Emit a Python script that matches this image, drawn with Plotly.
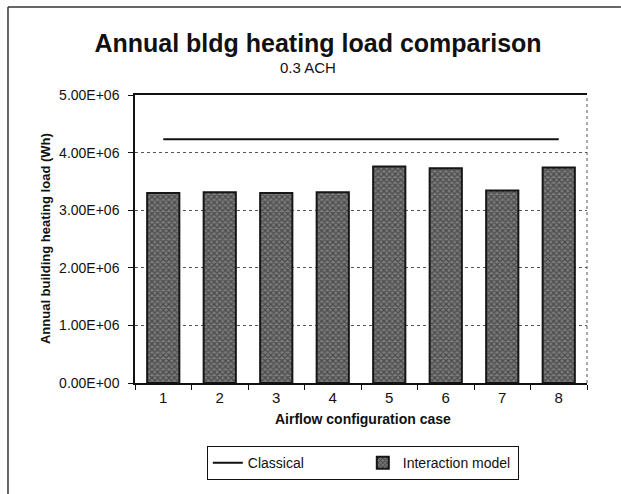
import plotly.graph_objects as go

cases = ["1", "2", "3", "4", "5", "6", "7", "8"]
interaction_model = [3.30e6, 3.31e6, 3.30e6, 3.31e6, 3.76e6, 3.73e6, 3.34e6, 3.74e6]
classical = [4.23e6, 4.23e6, 4.23e6, 4.23e6, 4.23e6, 4.23e6, 4.23e6, 4.23e6]
y_tick_values = [0, 1e6, 2e6, 3e6, 4e6, 5e6]
y_tick_labels = ["0.00E+00", "1.00E+06", "2.00E+06", "3.00E+06", "4.00E+06", "5.00E+06"]

FONT = "Liberation Sans, Arial, sans-serif"

fig = go.Figure()
fig.add_trace(go.Scatter(
    x=cases, y=classical, mode="lines", name="Classical",
    line=dict(color="#111111", width=2),
))
fig.add_trace(go.Bar(
    x=cases, y=interaction_model, name="Interaction model",
    marker=dict(
        color="#4a4a4a",
        line=dict(color="#161616", width=2),
        pattern=dict(shape="x", size=4, solidity=0.55, fgcolor="#1a1a1a", bgcolor="#7c7c7c"),
    ),
    width=0.57,
))

fig.update_layout(
    width=621, height=494,
    margin=dict(l=135, r=34, t=95, b=111),
    paper_bgcolor="white", plot_bgcolor="white",
    font=dict(family=FONT, color="#111111"),
    title=dict(
        text="<b>Annual bldg heating load comparison</b>",
        font=dict(size=25, family=FONT, color="#111111"),
        x=318 / 621, xref="container", xanchor="center",
        y=1 - 43 / 494, yref="container", yanchor="middle",
    ),
    showlegend=True,
    legend=dict(
        orientation="h", x=0.504, xanchor="center", y=-0.219, yanchor="top",
        bordercolor="#111111", borderwidth=1, bgcolor="white",
        font=dict(size=14, family=FONT, color="#111111"),
        entrywidth=110, itemwidth=30,
    ),
    bargap=0.43,
)

fig.update_xaxes(
    type="category", categoryorder="array", categoryarray=cases,
    showline=True, linecolor="#111111", linewidth=1.5, mirror=True,
    ticks="outside", ticklen=5, tickcolor="#111111", tickson="boundaries",
    tickfont=dict(size=15, family=FONT, color="#111111"),
    showgrid=False, zeroline=False,
)
fig.update_yaxes(
    range=[0, 5e6], tickvals=y_tick_values, ticktext=y_tick_labels,
    showline=True, linecolor="#111111", linewidth=1.5,
    ticks="outside", ticklen=5, tickcolor="#111111",
    ticklabelstandoff=6,
    tickfont=dict(size=14, family=FONT, color="#111111"),
    showgrid=True, gridcolor="#555555", gridwidth=1, griddash="dot",
    zeroline=False,
)

# subtitle
fig.add_annotation(
    text="0.3 ACH", xref="paper", yref="paper", x=0.383, y=1.095,
    xanchor="center", yanchor="middle", showarrow=False,
    font=dict(size=15, family=FONT, color="#111111"),
)
# axis titles
fig.add_annotation(
    text="<b>Annual building heating load (Wh)</b>", xref="paper", yref="paper",
    x=-0.199, y=0.5, textangle=-90, xanchor="center", yanchor="middle",
    showarrow=False, font=dict(size=13, family=FONT, color="#111111"),
)
fig.add_annotation(
    text="<b>Airflow configuration case</b>", xref="paper", yref="paper",
    x=0.504, y=-0.125, xanchor="center", yanchor="middle",
    showarrow=False, font=dict(size=14, family=FONT, color="#111111"),
)

# right dotted plot edge
fig.add_shape(type="line", xref="paper", yref="paper", x0=1, x1=1, y0=0, y1=1,
              line=dict(color="#555555", width=1, dash="dot"))
# outer chart frame (left and top)
fig.add_shape(type="line", xref="paper", yref="paper", x0=-0.281, x1=-0.281, y0=-0.385, y1=1.3056,
              line=dict(color="#333333", width=1.5))
fig.add_shape(type="line", xref="paper", yref="paper", x0=-0.281, x1=1.075, y0=1.3056, y1=1.3056,
              line=dict(color="#333333", width=1.5))

fig.write_html(
    "out.html",
    config={"displayModeBar": False},
    post_script="document.body.style.margin='0';document.body.style.overflow='hidden';",
)
